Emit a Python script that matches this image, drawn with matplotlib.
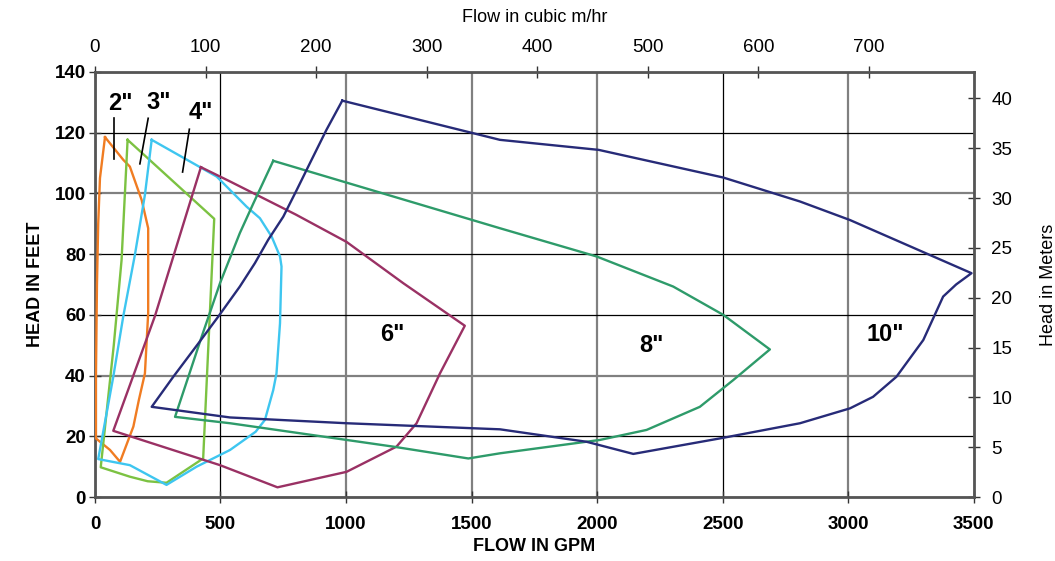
import matplotlib.pyplot as plt

plt.rcParams['font.family'] = ['Liberation Sans', 'DejaVu Sans']

# pump curves, flow in GPM vs head in feet
gpm_2 = [40, 113, 139, 186, 212, 212, 199, 175, 153, 100, 60, 4, 4, 8, 13, 20, 40]
head_2 = [118.5, 111, 108.8, 97.8, 88.5, 60.5, 40.7, 32, 23.2, 11.6, 15.5, 19.3, 40, 70, 90, 105, 118.5]

gpm_3 = [130, 475, 431, 285, 210, 139, 23, 75, 106, 130]
head_3 = [117.6, 91.6, 12.7, 4.7, 5.2, 6.7, 9.8, 50, 78, 117.6]

gpm_4 = [226, 485, 604, 657, 704, 737, 743, 737, 723, 710, 677, 640, 538, 405, 285, 139, 13,
         73, 113, 159, 199, 226]
head_4 = [117.6, 105.5, 95.6, 91.8, 85.7, 79.2, 75.9, 57.2, 40.7, 35.2, 25.4, 21.5, 15.5, 10, 4, 10.5, 12.5,
          39.6, 59.6, 79.7, 99.5, 117.6]

gpm_6 = [422, 538, 800, 1002, 1228, 1473, 1374, 1281, 1201, 1002, 727, 498, 73, 239, 422]
head_6 = [108.6, 103.9, 93, 84, 70.4, 56.4, 40.7, 24.3, 16.6, 8.3, 3.2, 10.5, 21.8, 59.6, 108.6]

gpm_8 = [710, 1613, 1998, 2303, 2502, 2688, 2542, 2409, 2197, 2011, 1613, 1487, 1188, 538, 319,
         425, 498, 577, 631, 710]
head_8 = [110.7, 88.5, 79.2, 69.3, 60, 48.6, 38.5, 29.7, 22.1, 18.8, 14.4, 12.7, 16.6, 24.3, 26.4,
          52.8, 70.4, 86.9, 96.7, 110.7]

gpm_10 = [985, 1613, 2006, 2502, 2808, 3007, 3325, 3491, 3430, 3378, 3299, 3192, 3099, 3007, 2808, 2502,
          2144, 1958, 1613, 1002, 538, 226, 312, 412, 491, 577, 637, 690, 750, 803, 856, 922, 985]
head_10 = [130.5, 117.6, 114.3, 105.2, 97.3, 91.2, 79.7, 73.7, 70, 66, 51.7, 39.6, 33, 29.2, 24.3, 19.5,
           14.2, 18.2, 22.3, 24.3, 26.2, 29.7, 39.6, 50.6, 59.4, 69.3, 77, 84.7, 92.3, 101, 109.9, 120.9, 130.5]

curves = [
    (gpm_2, head_2, '#f07c22'),
    (gpm_3, head_3, '#7cc242'),
    (gpm_4, head_4, '#3ec6f0'),
    (gpm_6, head_6, '#9a3164'),
    (gpm_8, head_8, '#2e9b6a'),
    (gpm_10, head_10, '#272b78'),
]

# size labels (text, gpm, head)
size_labels = [('2"', 100, 129.5), ('3"', 252, 129.8), ('4"', 420, 126.5),
               ('6"', 1183, 53.4), ('8"', 2218, 50), ('10"', 3146, 53.4)]
leaders = [((76, 76), (124.7, 111.3)), ((212, 179), (124.7, 109.7)), ((376, 349), (121.1, 107))]

GPM_PER_M3H = 4.4029
M_PER_FT = 0.3048

fig = plt.figure(figsize=(10.55, 5.61), dpi=100)
ax = fig.add_axes([0.090, 0.114, 0.833, 0.758])

for x, y, c in curves:
    ax.plot(x, y, color=c, lw=1.7, zorder=3)

for t, x, y in size_labels:
    ax.text(x, y, t, fontsize=17, fontweight='bold', ha='center', va='center', zorder=4)
for xs, ys in leaders:
    ax.plot(xs, ys, color='black', lw=1.2, zorder=4)

ax.set_xlim(0, 3500)
ax.set_ylim(0, 140)
ax.set_xticks(range(0, 3501, 500))
ax.set_yticks(range(0, 141, 20))

# grid, some lines grey some black like the original
ax.grid(True, zorder=0)
y_grey = {40, 100}
x_grey = {1000, 1500, 2000, 3000}
for v, gl in zip(range(0, 141, 20), ax.get_ygridlines()):
    if v in y_grey:
        gl.set_color('#808080'); gl.set_linewidth(1.6)
    else:
        gl.set_color('black'); gl.set_linewidth(0.9)
for v, gl in zip(range(0, 3501, 500), ax.get_xgridlines()):
    if v in x_grey:
        gl.set_color('#808080'); gl.set_linewidth(1.6)
    else:
        gl.set_color('black'); gl.set_linewidth(0.9)

for s in ax.spines.values():
    s.set_color('#555555')
    s.set_linewidth(2)

ax.tick_params(direction='inout', length=9, width=1, color='#333333', labelsize=13.5)
ax.tick_params(axis='x', pad=9)
ax.tick_params(axis='y', pad=2)
for lbl in ax.get_xticklabels() + ax.get_yticklabels():
    lbl.set_fontweight('bold')
ax.set_xlabel('FLOW IN GPM', fontsize=13, fontweight='bold', labelpad=4)
ax.set_ylabel('HEAD IN FEET', fontsize=13, fontweight='bold', labelpad=8)

top = ax.secondary_xaxis('top', functions=(lambda g: g / GPM_PER_M3H, lambda m: m * GPM_PER_M3H))
top.set_xticks(range(0, 701, 100))
top.tick_params(direction='inout', length=9, width=1, color='#333333', labelsize=13.5, pad=7)
top.set_xlabel('Flow in cubic m/hr', fontsize=13, labelpad=12)
top.spines['top'].set_visible(False)

right = ax.secondary_yaxis('right', functions=(lambda f: f * M_PER_FT, lambda m: m / M_PER_FT))
right.set_yticks(range(0, 41, 5))
right.tick_params(direction='inout', length=9, width=1, color='#333333', labelsize=13.5, pad=8)
right.set_ylabel('Head in Meters', fontsize=13, labelpad=20)
right.spines['right'].set_visible(False)

fig.savefig('out.png', dpi=100)
